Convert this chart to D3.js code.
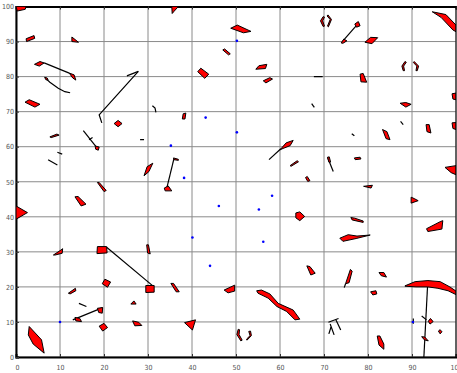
<!DOCTYPE html>
<html><head><meta charset="utf-8">
<script src="https://cdn.jsdelivr.net/npm/d3@7"></script>
<style>body{margin:0;background:#fff}svg{display:block}</style>
</head><body>
<script>
const xTicks = [0,10,20,30,40,50,60,70,80,90,100];
const yTicks = [0,10,20,30,40,50,60,70,80,90,100];

const obstacles = [
 [[0,100],[2.3,100],[2.1,99.2],[0.3,98.7]],
 [[2.3,90.8],[4.1,91.7],[4.25,90.9],[2.4,90.0]],
 [[12.7,91.3],[14.2,89.8],[12.7,90.0]],
 [[4.2,83.5],[5.45,84.3],[6.4,83.9],[5.3,83.0]],
 [[12.1,81.0],[13.2,80.5],[13.6,79.0],[12.9,79.6]],
 [[6.5,79.8],[7.1,79.6],[7.3,79.0],[6.8,79.1]],
 [[2.05,72.7],[3.0,73.4],[5.45,72.1],[4.3,71.3]],
 [[22.3,66.6],[23.2,67.5],[24.1,66.6],[23.2,65.7]],
 [[35.4,100],[36.9,100],[35.9,98.6],[35.5,98.0]],
 [[48.8,93.8],[50.3,94.7],[53.4,92.9],[51.7,92.5]],
 [[47,87.6],[47.4,87.9],[48.7,86.5],[48.3,86.2]],
 [[41.3,81.4],[42.0,82.4],[43.8,80.7],[42.9,79.5]],
 [[54.5,82.1],[55.2,83.1],[57.0,83.5],[56.7,82.3]],
 [[56.2,78.8],[57.7,79.7],[58.3,79.3],[56.8,78.2]],
 [[37.8,67.9],[38.0,69.4],[38.6,69.6],[38.4,67.9]],
 [[73.9,89.6],[74.5,90.7],[75.2,90.2],[74.3,89.5]],
 [[77.0,95.0],[77.8,95.7],[78.2,94.5],[77.4,94.1]],
 [[79.3,89.8],[80.6,91.2],[82.2,91.1],[80.9,89.4]],
 [[94.6,98.5],[97.7,97.7],[100,94.7],[100,92.8],[99.3,93.3],[96.6,96.9]],
 [[78.2,80.7],[78.9,80.9],[79.7,78.4],[78.4,78.5]],
 [[87.3,72.4],[88.6,72.6],[89.8,72.1],[88.6,71.3]],
 [[99.1,75.1],[100,75.3],[100,73.4],[99.3,73.6]],
 [[7.7,62.8],[9.3,63.6],[9.8,63.3],[8.0,62.6]],
 [[18,60.2],[18.9,59.9],[18.7,59.0],[18.1,59.3]],
 [[29.1,51.7],[29.8,54.3],[31.1,55.3],[30.2,52.9]],
 [[18.5,49.8],[18.9,49.8],[20.5,47.5],[20,47.2]],
 [[13.4,45.7],[14.1,45.8],[15.9,43.6],[14.8,43.1]],
 [[0,43.1],[2.6,41.2],[0,39.3]],
 [[35.8,56.8],[36.9,56.4],[36.9,56.1],[35.9,56.3]],
 [[33.7,48.2],[34.6,48.8],[35.4,47.4],[33.9,47.4]],
 [[60.0,59.1],[61.4,61.1],[63.0,61.8],[62.3,60.3],[60.7,59.5]],
 [[62.3,54.6],[63.9,56.0],[64.2,55.7],[62.5,54.4]],
 [[65.8,51.2],[66.2,51.5],[66.8,50.3],[66.3,50.1]],
 [[63.6,41.1],[64.5,41.4],[65.6,40.1],[64.5,38.9],[63.6,39.7]],
 [[83.3,64.9],[84.3,64.3],[85,62],[84.1,62.3]],
 [[93.2,66.3],[93.9,66.3],[94.3,63.9],[93.4,64.3]],
 [[99.1,66.8],[100,66.9],[100,64.9],[99.3,65.2]],
 [[70.8,57.0],[71.2,57.1],[71.5,55.6],[71.1,55.6]],
 [[76.9,56.8],[78.2,57.0],[78.4,56.5],[77.1,56.3]],
 [[97.5,54.1],[100,54.6],[100,52],[98.9,52.6]],
 [[79,48.7],[81,49],[80.7,48.2]],
 [[89.8,45.6],[90.5,45.2],[91.4,44.6],[89.8,43.9]],
 [[76.1,39.8],[77,39.6],[78.9,38.8],[78.9,38.4],[76.4,39.1]],
 [[93.3,36.6],[96.4,38.6],[97,38.9],[96.8,36.5],[93.6,35.8]],
 [[73.6,33.9],[75.5,34.9],[77.5,34.5],[80.5,34.8],[77.3,33.8],[74.3,33.0]],
 [[8.5,29.1],[10.2,30.5],[10.6,30.9],[10.5,29.6],[8.9,29.1]],
 [[18.5,31.5],[20.6,31.5],[20.7,29.7],[18.4,29.5]],
 [[29.5,20.4],[31.4,20.4],[31.4,18.5],[29.5,18.4]],
 [[29.7,32],[30.1,32],[30.5,29.4],[29.9,29.7]],
 [[19.6,20.9],[20.2,22.2],[21.5,21.4],[20.8,19.9]],
 [[11.9,18.2],[13.5,19.6],[13.6,18.9],[12.3,18]],
 [[26.1,15.1],[26.8,16.0],[27.3,15.1]],
 [[13.4,11.3],[14.5,11.0],[14.9,10.1],[13.6,10.3]],
 [[18.5,13.9],[19.7,14.1],[19.6,12.5],[18.8,12.7]],
 [[26.5,10.3],[27.9,9.9],[28.6,9.0],[27,8.9]],
 [[18.9,8.8],[20,9.6],[20.8,8.4],[19.7,7.4]],
 [[3.0,8.7],[2.8,6.3],[3.9,3.7],[6.4,1.1],[5.8,4.9]],
 [[35.2,21],[35.8,21],[37.1,18.6],[36.4,18.6]],
 [[47.3,19.1],[49.7,20.5],[49.7,18.8],[48.2,18.3]],
 [[54.7,18.9],[55.8,19.1],[57.7,18],[59.6,15.3],[63,13.4],[64.5,10.8],[63.4,10.6],[61.5,13],[59.3,14.4],[57.3,16.8],[55,18.2]],
 [[38.3,9.8],[40.8,10.6],[40.1,7.7]],
 [[66.1,26],[66.8,25.8],[68,23.9],[67,23.4]],
 [[74.9,20.9],[76,25],[76.4,24.5],[75.7,21.2]],
 [[82.5,24.1],[83.6,24.1],[84.2,22.8],[83,23.2]],
 [[80.6,18.6],[81.8,18.9],[82,18],[81.1,17.7]],
 [[88.4,20.3],[90.7,21.5],[93.6,21.8],[96.4,21.5],[98.6,20],[100,18.8],[100,17.8],[98.2,18.9],[95.9,19.6],[93.6,20],[90.9,20],[88.4,20.2]],
 [[93.7,10.2],[94.2,11],[94.8,10.1],[94.1,9.4]],
 [[96,7.4],[96.4,7.8],[96.8,7.2],[96.4,6.6]],
 [[92.2,5.8],[92.9,5.7],[93.7,4.6],[92.8,4.9]],
 [[82.1,6],[82.7,6],[83.6,3.7],[83.6,2.2],[82.5,3.4]],
 [[69.8,97.1],[69.2,95.9],[69.8,94.3],[70.1,94.4],[69.7,95.9],[70.1,97.0]],
 [[70.9,97.6],[71.7,96.3],[71.0,94.2],[70.8,94.4],[71.4,96.3],[70.7,97.3]],
 [[88.4,84.3],[87.7,83.0],[88.0,81.7],[88.3,81.7],[88.1,83.0],[88.7,84.1]],
 [[90.5,84.3],[91.5,83.0],[91.2,81.7],[90.9,81.7],[91.1,83.0],[90.3,84.0]],
 [[50.5,7.9],[50.2,6.4],[51.1,4.6],[51.4,4.8],[50.7,6.4],[50.8,7.8]],
 [[53.3,7.4],[53.5,6.1],[52.5,4.8],[52.4,5.1],[53.2,6.1],[52.9,7.3]]
];

const tracks = [
 [[6.4,83.9],[12.1,81.0]],
 [[6.75,79.5],[7.7,78.4],[9.6,76.7],[11.1,75.7],[12.3,75.4]],
 [[19.5,66.8],[18.9,69.1],[27.8,81.5]],
 [[25.2,80.2],[27.8,81.5]],
 [[31,71.7],[31.6,71.0],[31.8,69.8]],
 [[74.3,90.2],[77.8,95.2]],
 [[67.7,80],[69.7,80]],
 [[67.2,72.3],[67.8,71.2]],
 [[87.4,67.2],[88,66.3]],
 [[9.4,58.4],[10.5,57.9]],
 [[7.3,56.3],[9.4,54.8]],
 [[15.3,64.6],[18.5,59.5]],
 [[16.6,62.0],[17.4,62.6]],
 [[28.2,62],[29.1,62]],
 [[35.9,56.6],[34.2,47.8]],
 [[57.5,56.3],[60.2,59.4]],
 [[76.3,63.7],[76.9,63.1]],
 [[70.8,57],[72.1,52.9]],
 [[20.6,31.3],[31.1,20.3]],
 [[14.3,15.3],[16,14.4]],
 [[12.9,10.6],[19.7,14.1]],
 [[74.9,20.9],[74.6,19.8]],
 [[93.6,21.8],[92.7,0]],
 [[92.2,11.7],[93.3,10.6]],
 [[71,9.9],[73.3,11]],
 [[71.4,9.4],[72.3,6.3]],
 [[72.7,10.6],[73.8,7.7]],
 [[71.6,8.6],[71.1,6.6]],
 [[90.3,11],[90.3,9.5]]
];

const robotX = [50.2,43.1,50.2,35.2,38.2,58.2,46.1,55.2,40.1,56.2,44.1,10,90.2];
const robotY = [90.2,68.3,64.1,60.3,51.1,46,43.1,42.1,34.1,32.9,26,10,10];

const W = 457, H = 373;
const svg = d3.select("body").append("svg").attr("width", W).attr("height", H);
const x = d3.scaleLinear().domain([0,100]).range([16,456]);
const y = d3.scaleLinear().domain([0,100]).range([357,6.5]);

svg.append("defs").append("clipPath").attr("id","clip")
  .append("rect").attr("x",16).attr("y",6.5).attr("width",440).attr("height",350.5);

// grid
const grid = svg.append("g");
grid.selectAll(".gx").data(xTicks).join("line")
  .attr("x1",d=>x(d)).attr("x2",d=>x(d)).attr("y1",y(0)).attr("y2",y(100))
  .attr("stroke","#8a8a8a").attr("stroke-width",1);
grid.selectAll(".gy").data(yTicks).join("line")
  .attr("x1",x(0)).attr("x2",x(100)).attr("y1",d=>y(d)).attr("y2",d=>y(d))
  .attr("stroke","#8a8a8a").attr("stroke-width",1);

// axes
const axB = svg.append("g").attr("transform",`translate(0,${y(0)})`)
  .call(d3.axisBottom(x).tickValues(xTicks).tickSize(-3).tickPadding(8).tickFormat(d3.format("d")));
const axL = svg.append("g").attr("transform",`translate(${x(0)},0)`)
  .call(d3.axisLeft(y).tickValues(yTicks).tickSize(-3).tickPadding(2).tickFormat(d3.format("d")));
const axT = svg.append("g").attr("transform",`translate(0,${y(100)})`)
  .call(d3.axisTop(x).tickValues(xTicks).tickSize(-3).tickFormat(""));
[axB,axL,axT].forEach(a=>{
  a.select(".domain").attr("stroke","#000").attr("stroke-width",2);
  a.selectAll(".tick line").attr("stroke","#333");
  a.selectAll("text").attr("fill","#555").attr("font-size",7)
   .attr("font-family","'Liberation Sans Narrow','DejaVu Sans Condensed',sans-serif");
});
axB.selectAll(".tick text").attr("dx", d=> d===0 ? 1 : 0);

const plot = svg.append("g").attr("clip-path","url(#clip)");
const line = d3.line().x(d=>x(d[0])).y(d=>y(d[1]));

plot.selectAll(".trk").data(tracks).join("path")
  .attr("d", line).attr("fill","none").attr("stroke","#000").attr("stroke-width",1.2);

plot.selectAll(".obs").data(obstacles).join("path")
  .attr("d", d=>line(d)+"Z").attr("fill","#ff0000").attr("stroke","#000")
  .attr("stroke-width",1).attr("stroke-linejoin","round");

plot.selectAll(".rb").data(robotX).join("circle")
  .attr("cx",(d)=>x(d)).attr("cy",(d,i)=>y(robotY[i])).attr("r",1.3).attr("fill","#0000ff");

// right frame
svg.append("line").attr("x1",x(100)).attr("x2",x(100)).attr("y1",y(0)).attr("y2",y(100))
  .attr("stroke","#000").attr("stroke-width",1);
</script>
</body></html>
